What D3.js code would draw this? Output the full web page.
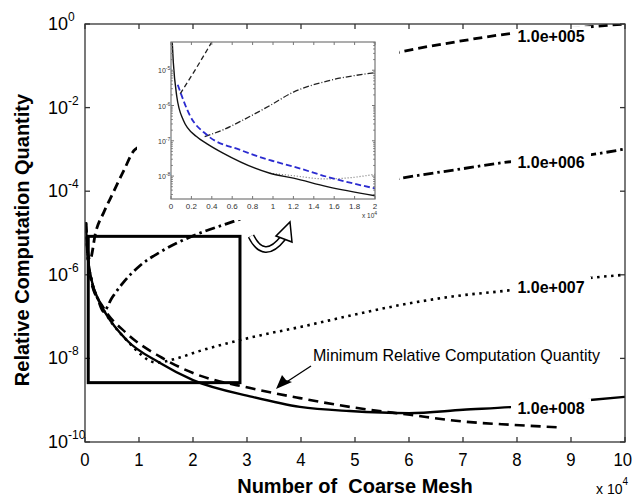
<!DOCTYPE html>
<html><head><meta charset="utf-8">
<script src="https://cdn.jsdelivr.net/npm/d3@7"></script>
<style>body{margin:0;background:#fff} svg{display:block} text{font-family:"Liberation Sans",Arial,sans-serif}</style>
</head><body><svg id="c" width="633" height="501"></svg>
<script>
// ---------- DATA (x in units of 10^4 coarse meshes, y as log10 of relative computation quantity)
const xTicks = [0,1,2,3,4,5,6,7,8,9,10];
const yTickExps = [0,-2,-4,-6,-8,-10];

const solidX = [0.015,0.05,0.12,0.25,0.4,0.77,1.39,2.0,3.1,3.98,4.9,6.0,7.0,7.93,9.3,10];
const solidY = [-4.75,-5.55,-6.12,-6.6,-6.96,-7.56,-8.11,-8.52,-8.92,-9.16,-9.26,-9.31,-9.23,-9.16,-9.0,-8.92];

const minX = [0.05,0.12,0.33,0.77,1.39,2.0,3.06,3.98,4.9,6.02,7.0,7.93,8.8];
const minY = [-5.5,-6.2,-6.76,-7.4,-7.96,-8.35,-8.71,-8.95,-9.16,-9.35,-9.51,-9.59,-9.65];

const e5X = [0.015,0.04,0.09,0.2,0.35,0.52,0.72,0.93,5.87,6.9,7.93,9.41,10];
const e5Y = [-4.75,-5.3,-5.65,-4.97,-4.5,-4.04,-3.5,-3.0,-0.66,-0.42,-0.22,-0.06,0];

const e6X = [0.015,0.05,0.12,0.25,0.34,0.5,0.7,1.0,1.4,1.94,2.62,5.85,6.9,7.9,9.35,10];
const e6Y = [-4.75,-5.55,-6.12,-6.62,-6.88,-6.55,-6.2,-5.8,-5.45,-5.1,-4.78,-3.69,-3.48,-3.29,-3.13,-2.99];

const e7X = [0.015,0.05,0.12,0.25,0.4,0.77,1.33,1.7,2.13,2.75,3.24,3.98,4.9,5.85,6.8,7.93,9.39,10];
const e7Y = [-4.75,-5.55,-6.12,-6.6,-6.96,-7.56,-8.1,-8.0,-7.82,-7.6,-7.45,-7.25,-6.98,-6.72,-6.52,-6.36,-6.07,-6.0];

const curveLabels = ["1.0e+005","1.0e+006","1.0e+007","1.0e+008"];
const curveLabelLogY = [-0.29,-3.3,-6.29,-9.19];
const curveLabelX = 8.63;

// inset data
const inXTicks = [0,0.2,0.4,0.6,0.8,1,1.2,1.4,1.6,1.8,2];
const inYTickExps = [-5,-6,-7,-8];
const inSolidX = [0.012,0.023,0.056,0.12,0.25,0.35,0.51,0.97,1.2,1.53,2];
const inSolidY = [-4.2,-4.79,-5.73,-6.41,-6.88,-7.08,-7.35,-7.92,-8.06,-8.3,-8.56];
const inMinX = [0.066,0.19,0.35,0.68,0.97,1.2,1.53,2];
const inMinY = [-5.41,-6.31,-6.83,-7.26,-7.55,-7.73,-8.02,-8.35];
const in5X = [0.09,0.25,0.4];
const in5Y = [-5.67,-4.93,-4.2];
const in6X = [0.33,0.51,0.68,0.97,1.2,1.53,2];
const in6Y = [-6.88,-6.69,-6.45,-6.0,-5.62,-5.31,-5.07];
const in7X = [0.97,1.2,1.5,1.7,2];
const in7Y = [-7.92,-7.99,-8.08,-8.06,-7.95];

// ---------- CHART
const svg = d3.select("#c");
const W=633;
const L=85,R=625,T=24,B=442;
const x = d3.scaleLinear().domain([0,10]).range([L,R]);
const y = d3.scaleLog().domain([1e-10,1]).range([B,T]);
const P = v => Math.pow(10,v);
const zip = (a,b) => a.map((v,i)=>[v,b[i]]);

svg.append("clipPath").attr("id","mc").append("rect").attr("x",L).attr("y",T).attr("width",R-L).attr("height",B-T);

const line = d3.line().x(d=>x(d[0])).y(d=>y(P(d[1]))).curve(d3.curveMonotoneX);
const g = svg.append("g").attr("clip-path","url(#mc)");
function curve(data, dash, w){
  g.append("path").attr("d",line(data)).attr("fill","none").attr("stroke","#000")
   .attr("stroke-width",w).attr("stroke-dasharray",dash||null);
}
curve(zip(e5X,e5Y),"9,5",2.8);
curve(zip(e6X,e6Y),"10,4,2.5,4",2.8);
curve(zip(e7X,e7Y),"2.5,4.5",2.6);
curve(zip(minX,minY),"10,6",2.6);
curve(zip(solidX,solidY),null,2.4);

// curve labels with white backing
curveLabels.forEach((t,i)=>{
  const cx = x(curveLabelX), cy = y(P(curveLabelLogY[i]));
  svg.append("rect").attr("x",cx-40).attr("y",cy-10).attr("width",80).attr("height",20).attr("fill","#fff");
  svg.append("text").attr("x",cx).attr("y",cy+6).attr("text-anchor","middle")
    .attr("font-size",16).attr("font-weight","bold").text(t);
});

// main axes box
const ax = svg.append("g");
ax.append("rect").attr("x",L).attr("y",T).attr("width",R-L).attr("height",B-T)
  .attr("fill","none").attr("stroke","#333").attr("stroke-width",1.3);
xTicks.forEach(v=>{
  ax.append("line").attr("x1",x(v)).attr("x2",x(v)).attr("y1",B).attr("y2",B-5).attr("stroke","#333").attr("stroke-width",1.3);
  ax.append("line").attr("x1",x(v)).attr("x2",x(v)).attr("y1",T).attr("y2",T+5).attr("stroke","#333").attr("stroke-width",1.3);
  const gt = ax.append("g").attr("transform",`translate(${x(v)},466) scale(0.88,1)`);
  const t = gt.append("text").attr("x",0).attr("y",0).attr("text-anchor","middle").attr("font-size",19).text(v);
  const bb = gt.node().getBoundingClientRect();
  if (bb.right > W-1) gt.attr("transform",`translate(${x(v)-(bb.right-(W-1))},466) scale(0.88,1)`);
});
yTickExps.forEach(e=>{
  const yy=y(P(e));
  ax.append("line").attr("x1",L).attr("x2",L+5).attr("y1",yy).attr("y2",yy).attr("stroke","#333").attr("stroke-width",1.3);
  ax.append("line").attr("x1",R).attr("x2",R-5).attr("y1",yy).attr("y2",yy).attr("stroke","#333").attr("stroke-width",1.3);
  const t = ax.append("text").attr("x",48).attr("y",yy+6).attr("font-size",18);
  t.append("tspan").text("10");
  t.append("tspan").attr("dy",-9).attr("font-size",12).text(e);
});

// axis titles
svg.append("text").attr("transform","translate(29,240) rotate(-90)").attr("text-anchor","middle")
  .attr("font-size",20).attr("font-weight","bold").text("Relative Computation Quantity");
svg.append("text").attr("x",x(5)).attr("y",493).attr("text-anchor","middle")
  .attr("font-size",20).attr("font-weight","bold").text("Number of\u00a0\u00a0Coarse Mesh");
const xe = svg.append("text").attr("x",596).attr("y",494).attr("font-size",14);
xe.append("tspan").text("x 10");
xe.append("tspan").attr("dy",-9).attr("font-size",10).text("4");

// zoom rectangle
svg.append("rect").attr("x",x(0.06)).attr("y",y(P(-5.08)))
  .attr("width",x(2.87)-x(0.06)).attr("height",y(P(-8.58))-y(P(-5.08)))
  .attr("fill","none").attr("stroke","#000").attr("stroke-width",3);

// annotation
svg.append("text").attr("x",313).attr("y",361).attr("font-size",17).attr("textLength",287)
  .attr("lengthAdjust","spacingAndGlyphs").text("Minimum Relative Computation Quantity");
svg.append("line").attr("x1",311).attr("y1",366).attr("x2",285).attr("y2",383).attr("stroke","#000").attr("stroke-width",1.3);
svg.append("path").attr("d","M276,389 L282,375 L286,380 L292,382 Z").attr("fill","#000");

// ---------- INSET
svg.append("rect").attr("x",137).attr("y",35).attr("width",262).attr("height",185).attr("fill","#fff");
const IL=171,IR=375,IT=42,IB=199;
const ix = d3.scaleLinear().domain([0,2]).range([IL,IR]);
const iy = d3.scaleLog().domain([P(-8.65),P(-4.2)]).range([IB,IT]);
svg.append("clipPath").attr("id","ic").append("rect").attr("x",IL).attr("y",IT).attr("width",IR-IL).attr("height",IB-IT);
const iline = d3.line().x(d=>ix(d[0])).y(d=>iy(P(d[1]))).curve(d3.curveMonotoneX);
const ig = svg.append("g").attr("clip-path","url(#ic)");
function icurve(data,col,dash,w){
  ig.append("path").attr("d",iline(data)).attr("fill","none").attr("stroke",col)
    .attr("stroke-width",w).attr("stroke-dasharray",dash||null);
}
icurve(zip(in7X,in7Y),"#777","1,2",1.2);
icurve(zip(in6X,in6Y),"#222","6,2,1,2",1.3);
icurve(zip(in5X,in5Y),"#222","5,3",1.3);
icurve(zip(inSolidX,inSolidY),"#111",null,1.4);
icurve(zip(inMinX,inMinY),"#2b2bd0","6,3",1.8);

const iax = svg.append("g");
iax.append("rect").attr("x",IL).attr("y",IT).attr("width",IR-IL).attr("height",IB-IT)
  .attr("fill","none").attr("stroke","#777").attr("stroke-width",1.2);
inXTicks.forEach(v=>{
  iax.append("line").attr("x1",ix(v)).attr("x2",ix(v)).attr("y1",IB).attr("y2",IB-3).attr("stroke","#777");
  iax.append("line").attr("x1",ix(v)).attr("x2",ix(v)).attr("y1",IT).attr("y2",IT+3).attr("stroke","#777");
  iax.append("text").attr("x",ix(v)).attr("y",IB+10).attr("text-anchor","middle").attr("font-size",8).attr("fill","#333").text(v);
});
for(let e=-9;e<=-5;e++){
  for(let m=1;m<10;m++){
    const v=m*P(e); if(v<P(-8.65)||v>P(-4.2)) continue;
    const yy=iy(v), len=m===1?3:1.8;
    iax.append("line").attr("x1",IL).attr("x2",IL+len).attr("y1",yy).attr("y2",yy).attr("stroke","#777");
    iax.append("line").attr("x1",IR).attr("x2",IR-len).attr("y1",yy).attr("y2",yy).attr("stroke","#777");
  }
}
inYTickExps.forEach(e=>{
  const t=iax.append("text").attr("x",158).attr("y",iy(P(e))+3).attr("font-size",7).attr("fill","#333");
  t.append("tspan").text("10");
  t.append("tspan").attr("dy",-3).attr("font-size",5).text(e);
});
const ixe=iax.append("text").attr("x",362).attr("y",218).attr("font-size",6.5).attr("fill","#333");
ixe.append("tspan").text("x 10");
ixe.append("tspan").attr("dy",-3).attr("font-size",5).text("4");

// curved hollow arrow
const arr = svg.append("g");
const cp = "M251,236 Q264,262 283,238";
arr.append("path").attr("d",cp).attr("fill","none").attr("stroke","#000").attr("stroke-width",7);
arr.append("path").attr("d",cp).attr("fill","none").attr("stroke","#fff").attr("stroke-width",4);
arr.append("path").attr("d","M276,236 L292,242 L290,222 Z").attr("fill","#fff").attr("stroke","#000").attr("stroke-width",1.5);
</script></body></html>
